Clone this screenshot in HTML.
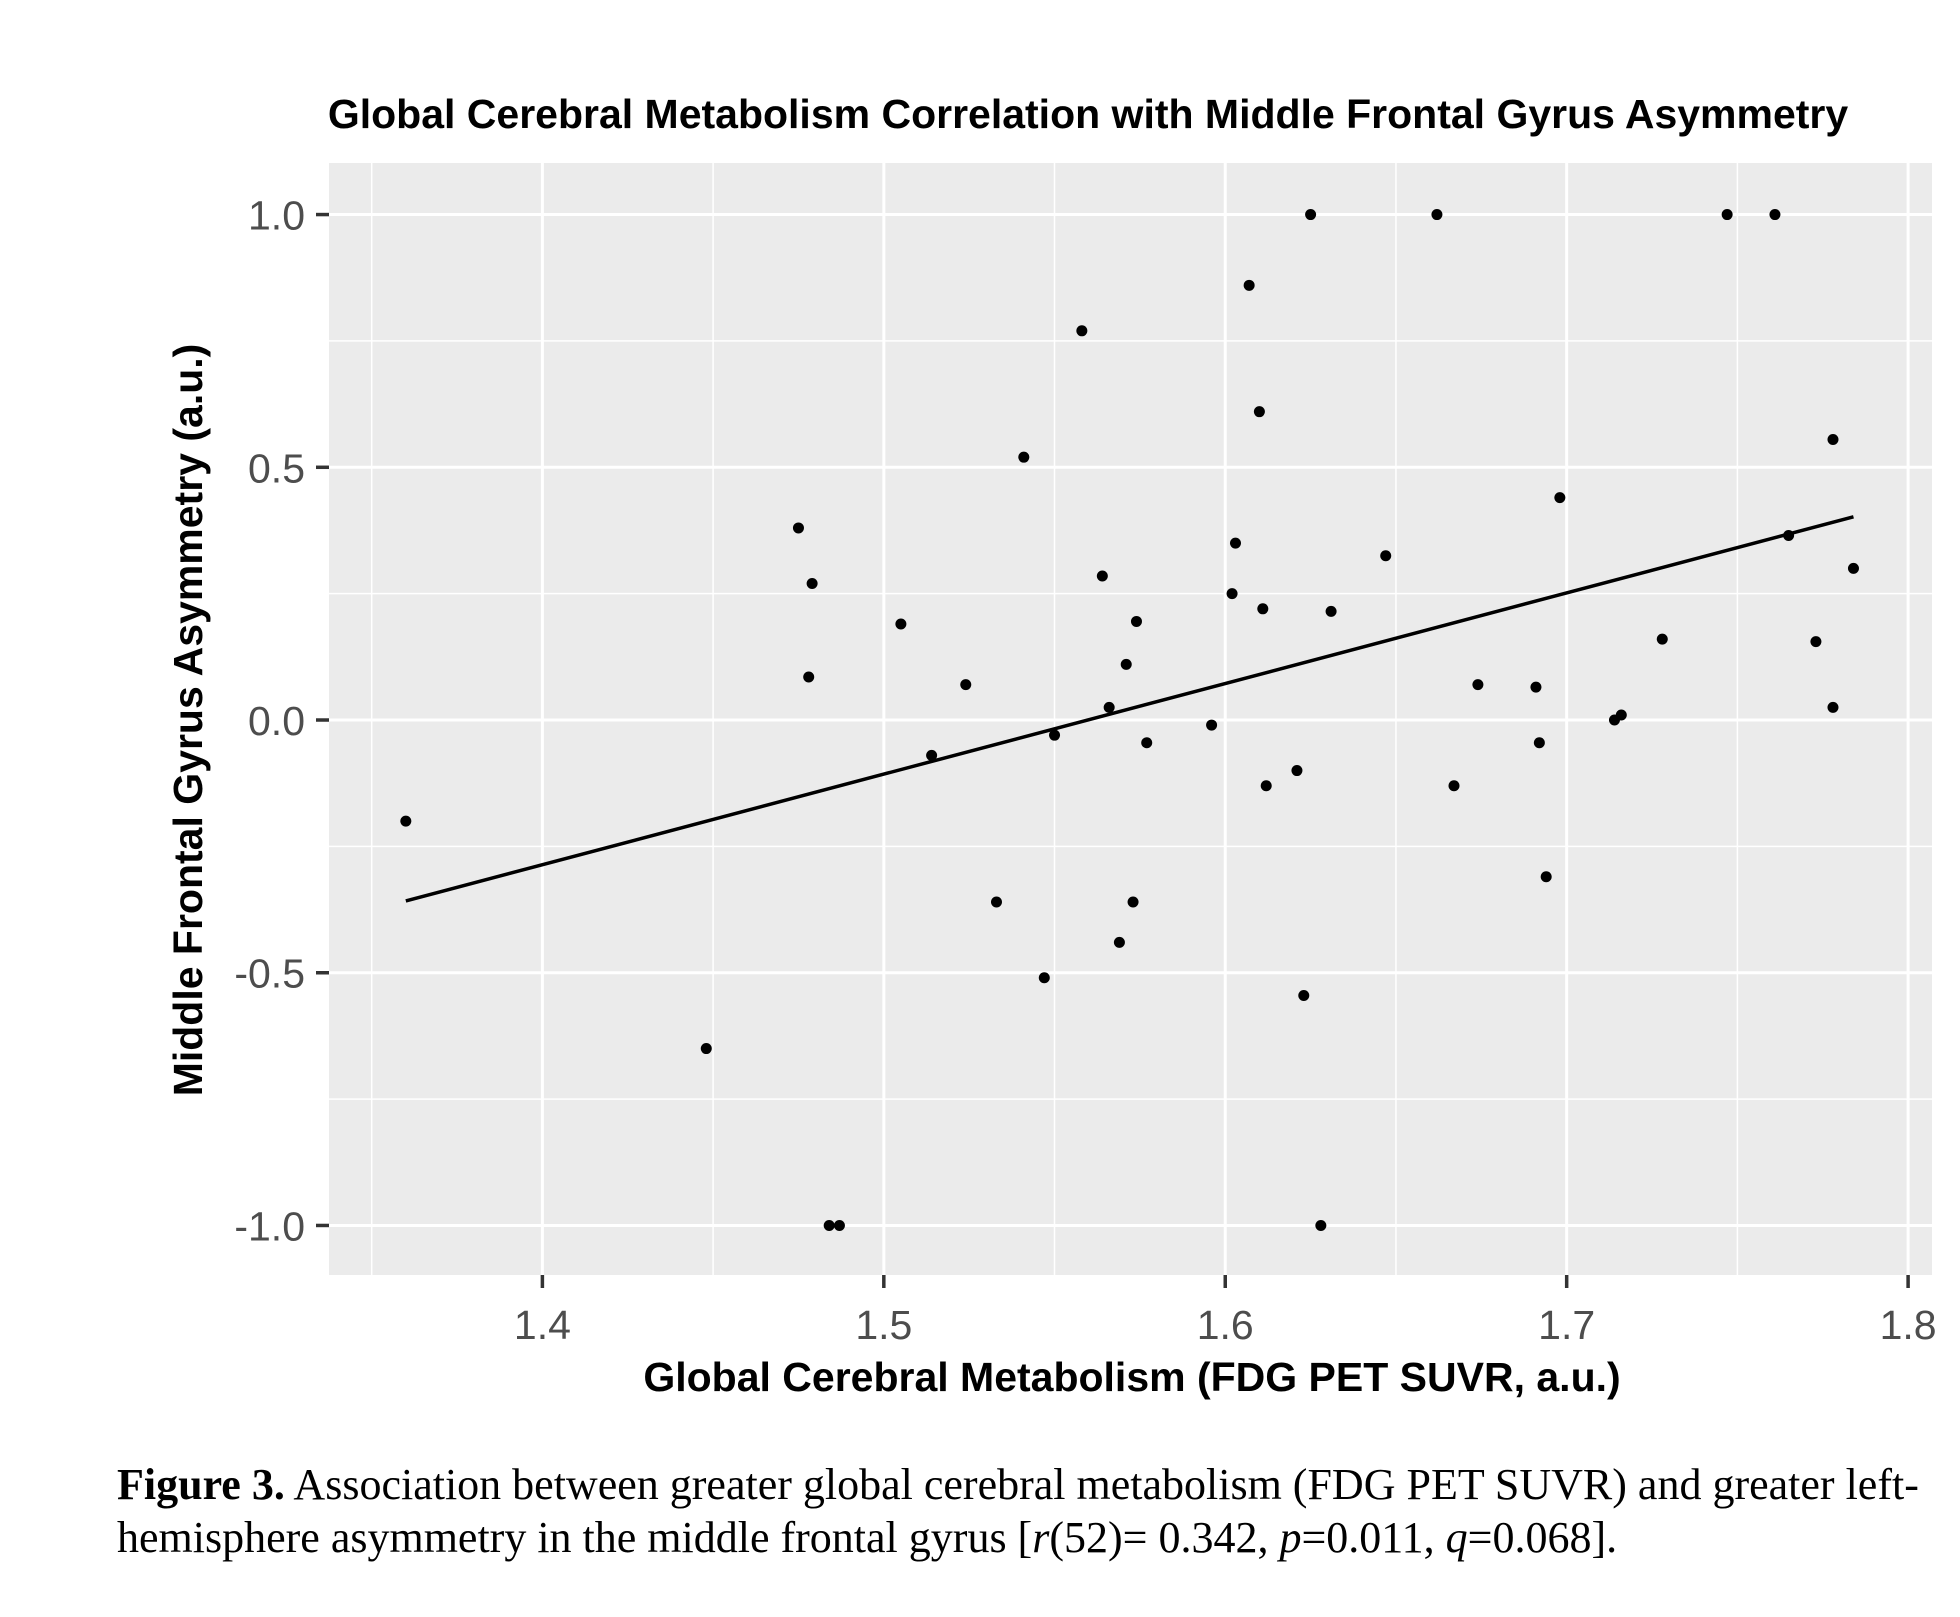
<!DOCTYPE html>
<html><head><meta charset="utf-8"><style>
html,body{margin:0;padding:0;background:#fff;}
svg{display:block;}
.cap{position:absolute;left:117px;top:1458px;width:1840px;font-family:"Liberation Serif",serif;font-size:44px;line-height:53px;color:#000;white-space:nowrap;}
</style></head><body>
<div style="position:relative;width:1960px;height:1617px;overflow:hidden">
<svg id="chart" width="1960" height="1617"></svg>
<div class="cap"><b>Figure 3.</b> Association between greater global cerebral metabolism (FDG PET SUVR) and greater left-<br>hemisphere asymmetry in the middle frontal gyrus [<i>r</i>(52)= 0.342, <i>p</i>=0.011, <i>q</i>=0.068].</div>
</div>
<script>
const xVals=[1.36,1.448,1.475,1.479,1.478,1.484,1.487,1.505,1.514,1.524,1.533,1.541,1.547,1.55,1.558,1.564,1.566,1.569,1.571,1.573,1.574,1.577,1.596,1.602,1.603,1.607,1.610,1.611,1.612,1.621,1.623,1.625,1.628,1.631,1.647,1.662,1.667,1.674,1.691,1.692,1.694,1.698,1.714,1.716,1.728,1.747,1.761,1.765,1.773,1.778,1.778,1.784];
const yVals=[-0.2,-0.65,0.38,0.27,0.085,-1,-1,0.19,-0.07,0.07,-0.36,0.52,-0.51,-0.03,0.77,0.285,0.025,-0.44,0.11,-0.36,0.195,-0.045,-0.01,0.25,0.35,0.86,0.61,0.22,-0.13,-0.1,-0.545,1.0,-1.0,0.215,0.325,1.0,-0.13,0.07,0.065,-0.045,-0.31,0.44,0.0,0.01,0.16,1.0,1.0,0.365,0.155,0.025,0.555,0.3];
const fitX=[1.36,1.784];
const fitY=[-0.358,0.402];
const xTicks=[1.4,1.5,1.6,1.7,1.8];
const xTickLabels=["1.4","1.5","1.6","1.7","1.8"];
const yTicks=[1.0,0.5,0.0,-0.5,-1.0];
const yTickLabels=["1.0","0.5","0.0","-0.5","-1.0"];
const NS="http://www.w3.org/2000/svg";
const svg=document.getElementById('chart');
const P={l:329,r:1932,t:163,b:1275};
const xMin=1.3375,xMax=1.807,yMin=-1.098,yMax=1.102;
function sx(v){return P.l+(v-xMin)/(xMax-xMin)*(P.r-P.l);}
function sy(v){return P.b-(v-yMin)/(yMax-yMin)*(P.b-P.t);}
function mk(tag,attrs,name){const e=document.createElementNS(NS,tag);for(const k in attrs)e.setAttribute(k,attrs[k]);


svg.appendChild(e);return e;}
mk('rect',{x:P.l,y:P.t,width:P.r-P.l,height:P.b-P.t,fill:'#ebebeb'},'plot-panel');
for(let i=0;i<xTicks.length+1;i++){const v=xTicks[0]-0.05+i*0.1;if(v>xMin&&v<xMax)mk('line',{x1:sx(v),x2:sx(v),y1:P.t,y2:P.b,stroke:'#fff','stroke-width':1.5},'minor-gridline-x');}
for(let i=0;i<yTicks.length-1;i++){const v=yTicks[i]-0.25;mk('line',{x1:P.l,x2:P.r,y1:sy(v),y2:sy(v),stroke:'#fff','stroke-width':1.5},'minor-gridline-y');}
xTicks.forEach((v,i)=>{mk('line',{x1:sx(v),x2:sx(v),y1:P.t,y2:P.b,stroke:'#fff','stroke-width':3},'gridline-x');
mk('line',{x1:sx(v),x2:sx(v),y1:P.b,y2:P.b+13,stroke:'#333','stroke-width':3.5},'x-tick');
const t=mk('text',{x:sx(v),y:P.b+64,'text-anchor':'middle','font-family':'Liberation Sans, sans-serif','font-size':41,fill:'#4d4d4d'},'x-tick-label');t.textContent=xTickLabels[i];});
yTicks.forEach((v,i)=>{mk('line',{x1:P.l,x2:P.r,y1:sy(v),y2:sy(v),stroke:'#fff','stroke-width':3},'gridline-y');
mk('line',{x1:P.l-13,x2:P.l,y1:sy(v),y2:sy(v),stroke:'#333','stroke-width':3.5},'y-tick');
const t=mk('text',{x:P.l-24,y:sy(v)+15,'text-anchor':'end','font-family':'Liberation Sans, sans-serif','font-size':41,fill:'#4d4d4d'},'y-tick-label');t.textContent=yTickLabels[i];});
xVals.forEach((v,i)=>{mk('circle',{cx:sx(v),cy:sy(yVals[i]),r:5.5,fill:'#000'},'data-point');});
mk('line',{x1:sx(fitX[0]),y1:sy(fitY[0]),x2:sx(fitX[1]),y2:sy(fitY[1]),stroke:'#000','stroke-width':3.5},'regression-line');
let t=mk('text',{x:1088,y:128,'text-anchor':'middle','font-family':'Liberation Sans, sans-serif','font-size':41,'font-weight':'bold',fill:'#000'},'chart-title');t.textContent='Global Cerebral Metabolism Correlation with Middle Frontal Gyrus Asymmetry';
t=mk('text',{x:1132,y:1391,'text-anchor':'middle','font-family':'Liberation Sans, sans-serif','font-size':41,'font-weight':'bold',fill:'#000'},'x-axis-title');t.textContent='Global Cerebral Metabolism (FDG PET SUVR, a.u.)';
t=mk('text',{x:0,y:0,'text-anchor':'middle','font-family':'Liberation Sans, sans-serif','font-size':41,'font-weight':'bold',fill:'#000',transform:'translate(202,720) rotate(-90)'},'y-axis-title');t.textContent='Middle Frontal Gyrus Asymmetry (a.u.)';
</script>
</body></html>
